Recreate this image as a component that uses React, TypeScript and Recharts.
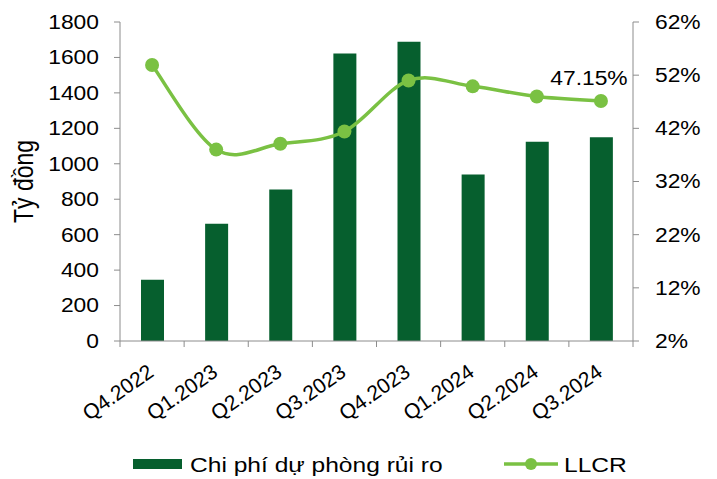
import {
  ComposedChart,
  Bar,
  Line,
  XAxis,
  YAxis,
  Legend,
  LabelList,
} from "recharts";

const quarters = [
  "Q4.2022",
  "Q1.2023",
  "Q2.2023",
  "Q3.2023",
  "Q4.2023",
  "Q1.2024",
  "Q2.2024",
  "Q3.2024",
];
const provisionCost = [345, 662, 855, 1622, 1688, 939, 1124, 1150];
const llcr = [53.9, 38.0, 39.1, 41.4, 51.0, 49.9, 48.0, 47.15];
const leftTicks = [0, 200, 400, 600, 800, 1000, 1200, 1400, 1600, 1800];
const rightTicks = [2, 12, 22, 32, 42, 52, 62];

const data = quarters.map((q, i) => ({
  q,
  cost: provisionCost[i],
  llcr: llcr[i],
}));

const FONT = "'Liberation Sans', Arial, sans-serif";
const BAR = "#065F2E";
const LINE = "#7AC143";
const AXIS = "#8c8c8c";
const STRETCH = 1.17; // text in the source looks horizontally stretched

// smoothed line like excel (catmull-rom style bezier)
const excelSmooth = (context: any) => {
  let pts: number[][] = [];
  return {
    areaStart() {},
    areaEnd() {},
    lineStart() {
      pts = [];
    },
    point(x: number, y: number) {
      pts.push([+x, +y]);
    },
    lineEnd() {
      if (!pts.length) return;
      context.moveTo(pts[0][0], pts[0][1]);
      for (let i = 0; i < pts.length - 1; i++) {
        const p0 = pts[i - 1] || pts[i];
        const p1 = pts[i];
        const p2 = pts[i + 1];
        const p3 = pts[i + 2] || p2;
        context.bezierCurveTo(
          p1[0] + (p2[0] - p0[0]) / 6,
          p1[1] + (p2[1] - p0[1]) / 6,
          p2[0] - (p3[0] - p1[0]) / 6,
          p2[1] - (p3[1] - p1[1]) / 6,
          p2[0],
          p2[1]
        );
      }
    },
  };
};

const SText = ({ x, y, anchor = "start", size = 19.5, rotate = 0, dy, children }: any) => (
  <text
    transform={`translate(${x},${y}) scale(${STRETCH},1)${rotate ? ` rotate(${rotate})` : ""}`}
    textAnchor={anchor}
    fontSize={size}
    fontFamily={FONT}
    fill="#000"
    dy={dy}
  >
    {children}
  </text>
);

// category label plus the small tick marks on the category borders
const QuarterTick = (props: any) => {
  const { x, y, payload, index, width } = props;
  const half = width / quarters.length / 2;
  const last = index === quarters.length - 1;
  return (
    <g>
      <line x1={x - half} x2={x - half} y1={y} y2={y + 6} stroke={AXIS} />
      {last && <line x1={x + half} x2={x + half} y1={y} y2={y + 6} stroke={AXIS} />}
      <text
        transform={`translate(${x + 3},${y + 34}) rotate(-35)`}
        textAnchor="end"
        fontSize={21}
        fontFamily={FONT}
        fill="#000"
      >
        {payload.value}
      </text>
    </g>
  );
};

const YTick = (props: any) => {
  const { x, y, payload, textAnchor, suffix = "" } = props;
  return (
    <SText x={x} y={y} anchor={textAnchor} dy="0.355em">
      {`${payload.value}${suffix}`}
    </SText>
  );
};

const LastLabel = (props: any) => {
  const { x, y, index, value } = props;
  if (index !== llcr.length - 1) return null;
  return (
    <SText x={x - 12} y={y - 16} anchor="middle">
      {`${Number(value).toFixed(2)}%`}
    </SText>
  );
};

const LegendBox = () => (
  <svg width={717} height={30} style={{ display: "block" }}>
    <rect x={133} y={10} width={49} height={10} fill={BAR} />
    <SText x={190} y={22.5} size={21}>
      Chi phí dự phòng rủi ro
    </SText>
    <line x1={504} y1={15} x2={558} y2={15} stroke={LINE} strokeWidth={3.5} />
    <circle cx={531} cy={15} r={6} fill={LINE} />
    <SText x={564} y={22.5} size={21}>
      LLCR
    </SText>
  </svg>
);

export default function App() {
  return (
    <div style={{ position: "absolute", left: 0, top: 0, background: "#fff" }}>
      <ComposedChart
        width={717}
        height={479}
        data={data}
        margin={{ top: 22, right: 0, left: 0, bottom: 0 }}
      >
        <XAxis
          dataKey="q"
          height={108}
          tickLine={false}
          axisLine={{ stroke: AXIS }}
          tickSize={0}
          tickMargin={0}
          interval={0}
          tick={<QuarterTick />}
        />
        <YAxis
          yAxisId="left"
          width={120}
          domain={[0, 1800]}
          ticks={leftTicks}
          tickSize={6}
          tickMargin={15}
          axisLine={{ stroke: AXIS }}
          tickLine={{ stroke: AXIS }}
          tick={<YTick />}
          label={{
            content: ({ viewBox }: any) => (
              <SText
                x={viewBox.x + 24}
                y={viewBox.y + viewBox.height / 2}
                anchor="middle"
                rotate={-90}
                size={23}
                dy="0.35em"
              >
                Tỷ đồng
              </SText>
            ),
          }}
        />
        <YAxis
          yAxisId="pct"
          orientation="right"
          width={84}
          domain={[2, 62]}
          ticks={rightTicks}
          tickSize={6}
          tickMargin={16}
          axisLine={{ stroke: AXIS }}
          tickLine={{ stroke: AXIS }}
          tick={<YTick suffix="%" />}
        />
        <Bar
          yAxisId="left"
          dataKey="cost"
          name="Chi phí dự phòng rủi ro"
          fill={BAR}
          barSize={23}
          isAnimationActive={false}
        />
        <Line
          yAxisId="pct"
          dataKey="llcr"
          name="LLCR"
          type={excelSmooth as any}
          stroke={LINE}
          strokeWidth={3.5}
          dot={{ r: 7, fill: LINE, stroke: LINE, strokeWidth: 0 }}
          activeDot={false}
          isAnimationActive={false}
        >
          <LabelList dataKey="llcr" content={<LastLabel />} />
        </Line>
        <Legend
          verticalAlign="bottom"
          content={() => <LegendBox />}
          wrapperStyle={{ left: 0, width: 717, height: 30 }}
        />
      </ComposedChart>
    </div>
  );
}
